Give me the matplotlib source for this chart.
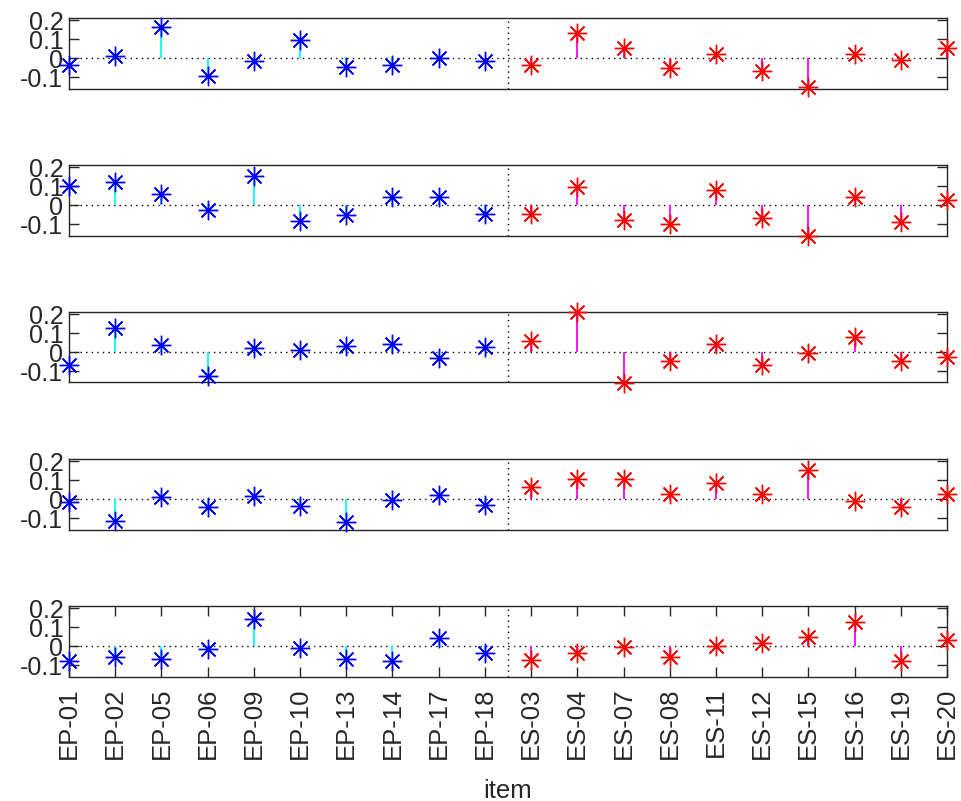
import numpy as np
import matplotlib
matplotlib.use("Agg")
import matplotlib.pyplot as plt

plt.rcParams['font.family'] = ['Liberation Sans', 'DejaVu Sans']

items = ['EP-01', 'EP-02', 'EP-05', 'EP-06', 'EP-09', 'EP-10', 'EP-13', 'EP-14',
         'EP-17', 'EP-18', 'ES-03', 'ES-04', 'ES-07', 'ES-08', 'ES-11', 'ES-12',
         'ES-15', 'ES-16', 'ES-19', 'ES-20']
n_ep = 10

# values, one row per panel (top to bottom)
panel1 = [-0.037, 0.014, 0.165, -0.092, -0.016, 0.094, -0.043, -0.034, 0.002, -0.016,
          -0.037, 0.135, 0.052, -0.051, 0.023, -0.065, -0.152, 0.023, -0.007, 0.052]
panel2 = [0.103, 0.125, 0.062, -0.025, 0.153, -0.083, -0.053, 0.042, 0.042, -0.047,
          -0.047, 0.095, -0.075, -0.100, 0.083, -0.067, -0.158, 0.042, -0.087, 0.030]
panel3 = [-0.065, 0.126, 0.039, -0.123, 0.021, 0.012, 0.035, 0.044, -0.030, 0.026,
          0.061, 0.214, -0.161, -0.044, 0.044, -0.065, -0.003, 0.079, -0.044, -0.023]
panel4 = [-0.014, -0.111, 0.012, -0.040, 0.018, -0.035, -0.120, -0.005, 0.021, -0.032,
          0.065, 0.109, 0.109, 0.030, 0.086, 0.030, 0.153, -0.009, -0.040, 0.030]
panel5 = [-0.077, -0.058, -0.065, -0.014, 0.144, -0.007, -0.065, -0.077, 0.046, -0.037,
          -0.072, -0.033, -0.005, -0.058, 0.002, 0.016, 0.051, 0.130, -0.077, 0.033]
panels = [panel1, panel2, panel3, panel4, panel5]

yticks = [-0.1, 0, 0.1, 0.2]
ytick_labels = ['-0.1', '0', '0.1', '0.2']

txt = '#262626'
W, H = 962, 801
fig = plt.figure(figsize=(W / 100, H / 100), dpi=100)

x = np.arange(1, len(items) + 1)
ast = (8, 2, 0)  # asterisk like MATLAB '*'
left, right = 69, 947
tops = [18, 165, 312, 459, 606]
ph = 70.5

for k, vals in enumerate(panels):
    vals = np.array(vals)
    ax = fig.add_axes([left / W, 1 - (tops[k] + ph) / H, (right - left) / W, ph / H])
    ax.set_xlim(1, 20)
    ax.set_ylim(-0.158, 0.212)
    ax.axhline(0, color='black', lw=1, dashes=(1, 3), zorder=1)
    ax.axvline(n_ep + 0.5, color='black', lw=1, dashes=(1, 3), zorder=1)
    ax.vlines(x[:n_ep], 0, vals[:n_ep], color='cyan', lw=1.3, zorder=2)
    ax.vlines(x[n_ep:], 0, vals[n_ep:], color='magenta', lw=1.3, zorder=2)
    ax.plot(x[:n_ep], vals[:n_ep], ls='none', marker=ast, ms=14, mew=1.0,
            mec='blue', color='blue', clip_on=False, zorder=3)
    ax.plot(x[n_ep:], vals[n_ep:], ls='none', marker=ast, ms=14, mew=1.0,
            mec='red', color='red', clip_on=False, zorder=3)

    ax.set_yticks(yticks)
    ax.set_yticklabels(ytick_labels)
    ax.tick_params(axis='y', direction='in', length=7, width=1, right=True,
                   labelsize=18, colors=txt, pad=4)
    for s in ax.spines.values():
        s.set_color(txt)
        s.set_linewidth(1)
    if k < len(panels) - 1:
        ax.set_xticks([])
    else:
        ax.set_xticks(x)
        ax.set_xticklabels(items, rotation=90)
        ax.tick_params(axis='x', direction='in', length=7, width=1, top=True,
                       labelsize=18.5, colors=txt, pad=8)
        ax.set_xlabel('item', fontsize=18.5, color=txt, labelpad=14)

fig.savefig('out.png', dpi=100)
